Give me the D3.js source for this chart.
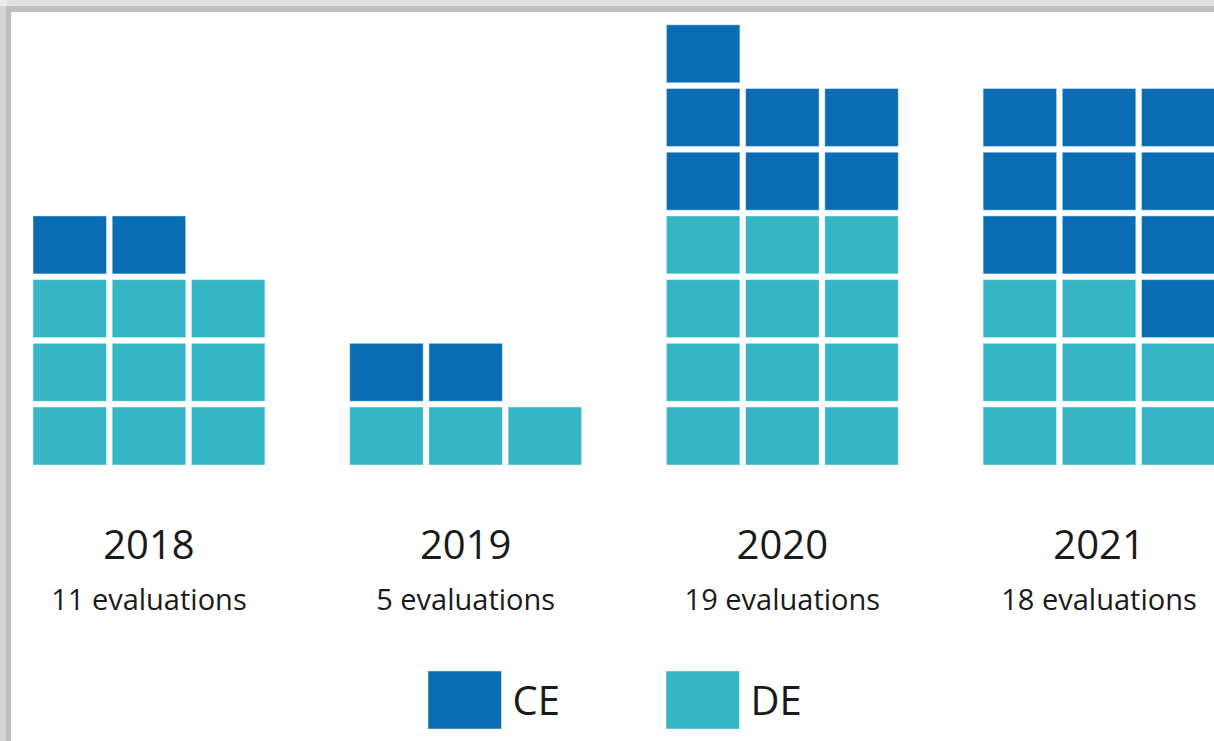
<!DOCTYPE html>
<html>
<head>
<meta charset="utf-8">
<script src="https://cdn.jsdelivr.net/npm/d3@7"></script>
<style>
  html, body { margin: 0; padding: 0; background: #fff; }
  svg { display: block; font-family: "Open Sans", sans-serif; }
</style>
</head>
<body>
<svg id="chart" width="1214" height="741"></svg>
<script>
/* ── Data ─────────────────────────────────────────────── */
const years = ['2018', '2019', '2020', '2021'];
const deCounts = [9, 3, 12, 8];
const ceCounts = [2, 2, 7, 10];
const series = ['CE', 'DE'];

/* ── Layout ───────────────────────────────────────────── */
const W = 1214, H = 741;
const cols = 3;
const cellW = 73.5, cellH = 58;
const colStep = 79.2, rowStep = 63.7;
const baseY = 465;

const svg = d3.select('#chart');

const color = d3.scaleOrdinal().domain(series).range(['#0a6db3', '#36b5c4']);

// one band per year group
const x = d3.scaleBand().domain(years).range([33, 33 + 316.7 * years.length]).paddingInner(0);
const colX = d3.scaleLinear().domain([0, 1]).range([0, colStep]);
const rowY = d3.scaleLinear().domain([0, 1]).range([baseY - cellH, baseY - cellH - rowStep]);
const groupW = colStep * (cols - 1) + cellW;

/* ── Frame (screenshot edge) ──────────────────────────── */
const frame = svg.append('g');
frame.append('rect').attr('x', 0).attr('y', 0).attr('width', W).attr('height', 6).attr('fill', '#e3e3e3');
frame.append('rect').attr('x', 0).attr('y', 6).attr('width', W).attr('height', 6).attr('fill', '#c0c0c0');
frame.append('rect').attr('x', 0).attr('y', 0).attr('width', 6).attr('height', H).attr('fill', '#d4d4d4');
frame.append('rect').attr('x', 6).attr('y', 6).attr('width', 5).attr('height', H).attr('fill', '#bdbdbd');
frame.append('rect').attr('x', 0).attr('y', 0).attr('width', 6).attr('height', 6).attr('fill', '#ececec');

/* ── Waffle cells ─────────────────────────────────────── */
const cells = [];
years.forEach((yr, i) => {
  const kinds = d3.range(deCounts[i]).map(() => 'DE')
    .concat(d3.range(ceCounts[i]).map(() => 'CE'));
  kinds.forEach((k, j) => cells.push({ year: yr, kind: k, col: j % cols, row: Math.floor(j / cols) }));
});

svg.append('g').selectAll('rect.cell')
  .data(cells)
  .join('rect')
  .attr('class', 'cell')
  .attr('x', d => x(d.year) + colX(d.col))
  .attr('y', d => rowY(d.row))
  .attr('width', cellW)
  .attr('height', cellH)
  .attr('fill', d => color(d.kind))
  .attr('stroke', 'rgba(255,255,255,0.45)')
  .attr('stroke-width', 1);

/* ── Labels ───────────────────────────────────────────── */
const labels = svg.append('g').attr('text-anchor', 'middle');
labels.selectAll('text.year')
  .data(years)
  .join('text')
  .attr('class', 'year')
  .attr('x', d => x(d) + groupW / 2)
  .attr('y', 559)
  .attr('font-size', 40)
  .attr('fill', '#1a1a1a')
  .text(d => d);

labels.selectAll('text.count')
  .data(years)
  .join('text')
  .attr('class', 'count')
  .attr('x', d => x(d) + groupW / 2)
  .attr('y', 610)
  .attr('font-size', 29)
  .attr('fill', '#1a1a1a')
  .text((d, i) => `${deCounts[i] + ceCounts[i]} evaluations`);

/* ── Legend ───────────────────────────────────────────── */
const legendX = d3.scaleOrdinal().domain(series).range([428, 666]);
const legend = svg.append('g').selectAll('g')
  .data(series)
  .join('g')
  .attr('transform', d => `translate(${legendX(d)},671)`);

legend.append('rect')
  .attr('width', cellW)
  .attr('height', cellH)
  .attr('fill', d => color(d))
  .attr('stroke', 'rgba(255,255,255,0.45)');

legend.append('text')
  .attr('x', cellW + 11)
  .attr('y', 44)
  .attr('font-size', 40)
  .attr('fill', '#1a1a1a')
  .text(d => d);
</script>
</body>
</html>
